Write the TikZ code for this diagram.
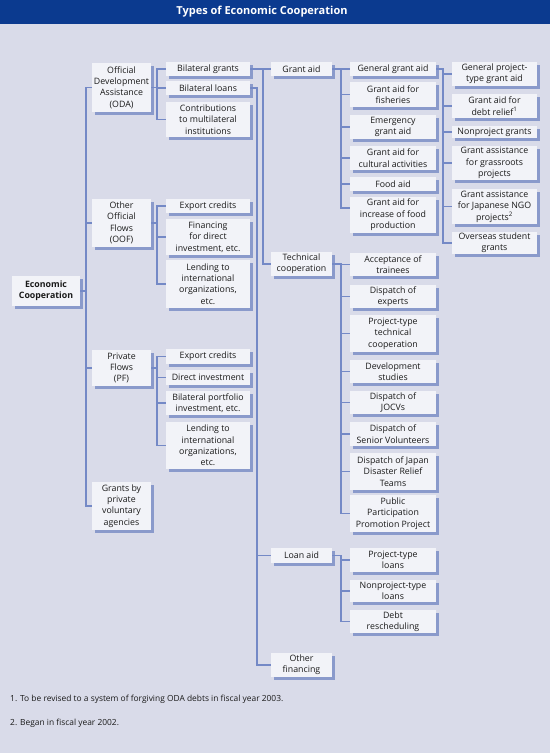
\documentclass[tikz,border=0pt]{standalone}
\usepackage{fontspec}
\setmainfont{Open Sans}
\definecolor{bgc}{HTML}{D9DBE9}
\definecolor{hdc}{HTML}{0B3A8F}
\definecolor{boxc}{HTML}{F2F3F8}
\definecolor{shc}{HTML}{8A9ACB}
\definecolor{linec}{HTML}{7489C6}
\definecolor{txc}{HTML}{1A1A1A}
\newcommand\mkbox[6]{%
  \fill[shc] ({#2+2.5},{#3+2.5}) rectangle ({#4+2.5},{#5+2.5});
  \node[bx, minimum width={#4-#2}, minimum height={#5-#3}] (#1) at ({(#2+#4)/2},{(#3+#5)/2}) {#6};}
\begin{document}
\begin{tikzpicture}[x=1pt,y=-1pt,
  bx/.style={rectangle, fill=boxc, inner sep=0pt, align=center, text=txc,
    font=\fontsize{8.8}{11.4}\selectfont},
  ln/.style={draw=linec, line width=1.1pt},
  fn/.style={anchor=west, inner sep=0pt, text=txc, font=\fontsize{8.4}{10}\selectfont}]
\useasboundingbox (0,0) rectangle (550,753);
\fill[bgc] (0,0) rectangle (550,753);
\fill[hdc] (0,0) rectangle (550,24);
\node[text=white, font=\bfseries\fontsize{11}{13}\selectfont] (title) at (262,12) {Types of Economic Cooperation};

% coordinates for vertical connector lines
\coordinate (v1) at (86,0);
\coordinate (v2) at (157,0);
\coordinate (v3a) at (263,0);
\coordinate (v3b) at (257,0);
\coordinate (v4) at (341,0);
\coordinate (v5) at (443,0);

% column 0
\mkbox{econ}{12}{276}{80}{306}{\bfseries Economic\\\bfseries Cooperation}
% column 1
\mkbox{oda}{92}{63}{151}{112}{Official\\Development\\Assistance\\(ODA)}
\mkbox{oof}{92}{199}{151}{247}{Other\\Official\\Flows\\(OOF)}
\mkbox{pf}{92}{350}{151}{386}{Private\\Flows\\(PF)}
\mkbox{gpv}{92}{482}{151}{530}{Grants by\\private\\voluntary\\agencies}
% column 2
\mkbox{bg}{166}{62}{250}{76}{Bilateral grants}
\mkbox{bl}{166}{81}{250}{95}{Bilateral loans}
\mkbox{cmi}{166}{102}{250}{137}{Contributions\\to multilateral\\institutions}
\mkbox{oec}{166}{199}{250}{213}{Export credits}
\mkbox{fdi}{166}{219}{250}{255}{Financing\\for direct\\investment, etc.}
\mkbox{oli}{166}{260}{250}{308}{Lending to\\international\\organizations,\\etc.}
\mkbox{pec}{166}{349}{250}{364}{Export credits}
\mkbox{pdi}{166}{370}{250}{385}{Direct investment}
\mkbox{pbp}{166}{391}{250}{415}{Bilateral portfolio\\investment, etc.}
\mkbox{pli}{166}{422}{250}{469}{Lending to\\international\\organizations,\\etc.}
% column 3
\mkbox{ga}{271}{62}{332}{76}{Grant aid}
\mkbox{tc}{271}{252}{332}{276}{Technical\\cooperation}
\mkbox{la}{271}{548}{332}{563}{Loan aid}
\mkbox{of}{271}{653}{332}{677}{Other\\financing}
% column 4
\mkbox{gga}{350}{62}{436}{76}{General grant aid}
\mkbox{gaf}{350}{82}{436}{107}{Grant aid for\\fisheries}
\mkbox{ega}{350}{115}{436}{139}{Emergency\\grant aid}
\mkbox{gac}{350}{146}{436}{170}{Grant aid for\\cultural activities}
\mkbox{fa}{350}{177}{436}{191}{Food aid}
\mkbox{gfp}{350}{197}{436}{233}{Grant aid for\\increase of food\\production}
\mkbox{at}{350}{253}{436}{276}{Acceptance of\\trainees}
\mkbox{de}{350}{285}{436}{308}{Dispatch of\\experts}
\mkbox{ptc}{350}{315}{436}{352}{Project-type\\technical\\cooperation}
\mkbox{ds}{350}{360}{436}{383}{Development\\studies}
\mkbox{dj}{350}{391}{436}{414}{Dispatch of\\JOCVs}
\mkbox{dsv}{350}{422}{436}{446}{Dispatch of\\Senior Volunteers}
\mkbox{djd}{350}{453}{436}{490}{Dispatch of Japan\\Disaster Relief\\Teams}
\mkbox{ppp}{350}{495}{436}{532}{Public\\Participation\\Promotion Project}
\mkbox{ptl}{350}{548}{436}{572}{Project-type\\loans}
\mkbox{npl}{350}{580}{436}{602}{Nonproject-type\\loans}
\mkbox{dr}{350}{610}{436}{633}{Debt\\rescheduling}
% column 5
\mkbox{gpt}{452}{62}{537}{86}{General project-\\type grant aid}
\mkbox{gdr}{452}{94}{537}{118}{Grant aid for\\debt relief\textsuperscript{1}}
\mkbox{npg}{452}{126}{537}{138}{Nonproject grants}
\mkbox{gag}{452}{146}{537}{180}{Grant assistance\\for grassroots\\projects}
\mkbox{gjn}{452}{189}{537}{224}{Grant assistance\\for Japanese NGO\\projects\textsuperscript{2}}
\mkbox{osg}{452}{232}{537}{254}{Overseas student\\grants}

% connectors
\foreach \c in {oda,oof,pf,gpv}
  \draw[ln] (econ.east) -- (econ.east -| v1) |- (\c.west);
\foreach \c in {bg,bl,cmi}
  \draw[ln] (oda.east) -- (oda.east -| v2) |- (\c.west);
\foreach \c in {oec,fdi,oli}
  \draw[ln] (oof.east) -- (oof.east -| v2) |- (\c.west);
\foreach \c in {pec,pdi,pbp,pli}
  \draw[ln] (pf.east) -- (pf.east -| v2) |- (\c.west);
\foreach \c in {ga,tc}
  \draw[ln] (bg.east) -- (bg.east -| v3a) |- (\c.west);
\foreach \c in {la,of}
  \draw[ln] (bl.east) -- (bl.east -| v3b) |- (\c.west);
\foreach \c in {gga,gaf,ega,gac,fa}
  \draw[ln] (ga.east) -- (ga.east -| v4) |- (\c.west);
\draw[ln] (ga.east) -- (ga.east -| v4) |- ([yshift=7pt]gfp.west);
\foreach \c in {at,de,ptc,ds,dj,dsv,djd,ppp}
  \draw[ln] (tc.east) -- (tc.east -| v4) |- (\c.west);
\foreach \c in {ptl,npl,dr}
  \draw[ln] (la.east) -- (la.east -| v4) |- (\c.west);
\foreach \c in {gpt,gdr,npg,gag,gjn,osg}
  \draw[ln] (gga.east) -- (gga.east -| v5) |- (\c.west);

% footnotes
\node[fn] (fn1) at (10,699) {1. To be revised to a system of forgiving ODA debts in fiscal year 2003.};
\node[fn] (fn2) at (10,723) {2. Began in fiscal year 2002.};
\end{tikzpicture}
\end{document}
